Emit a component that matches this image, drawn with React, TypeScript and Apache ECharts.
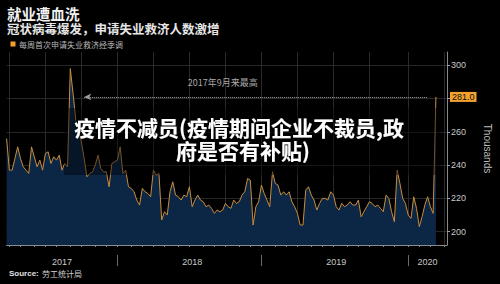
import React, { useEffect, useRef } from "react";
import * as echarts from "echarts";

// Weekly initial jobless claims (thousands, SA), week ending 2017-03-25 .. 2020-03-14
const weeklyClaims: number[] = [
  256, 237, 237, 244, 251, 244, 239, 237, 235, 251,
  245, 239, 243, 237, 247, 248, 241, 245, 243, 246,
  237, 241, 239, 298, 283, 267, 260, 254, 244, 233,
  235, 236, 240, 246, 238, 236, 236, 227, 241, 242,
  243, 251, 235, 237, 227, 226, 224, 219, 216, 226,
  224, 223, 221, 237, 234, 235, 207, 212, 210, 224,
  230, 222, 221, 219, 222, 221, 227, 215, 219, 222,
  219, 218, 215, 216, 214, 211, 213, 212, 213, 217,
  215, 214, 219, 217, 218, 222, 224, 232, 231, 204,
  215, 218, 228, 223, 219, 215, 236, 229, 228, 222,
  224, 222, 224, 218, 215, 211, 204, 204, 225, 227,
  222, 219, 213, 217, 220, 220, 219, 224, 222, 215,
  213, 217, 215, 216, 218, 216, 216, 219, 209, 212,
  215, 218, 217, 215, 216, 214, 212, 222, 220, 212,
  206, 237, 229, 220, 217, 210, 208, 221, 214, 203,
  209, 216, 221, 215, 211, 281,
];

const yTickValues = [200, 220, 240, 260, 280, 300];
const yLabelValues = [200, 220, 240, 260, 300];
const latestValue = 281.0;
const annotationText = "2017年9月来最高";
const titleMain = "就业遭血洗";
const titleSub = "冠状病毒爆发，申请失业救济人数激增";
const legendText = "每周首次申请失业救济经季调";
const overlayLine1 = "疫情不减员(疫情期间企业不裁员,政";
const overlayLine2 = "府是否有补贴)";

const DAY = 864e5;
const START = Date.UTC(2017, 2, 25);
const WEEKS = 160; // axis runs to 2020-04-11
const weekDates = Array.from({ length: WEEKS }, (_, i) => new Date(START + i * 7 * DAY));
const categories = weekDates.map((d) => d.toISOString().slice(0, 10));
const seriesData = categories.map((_, i) => (i < weeklyClaims.length ? weeklyClaims[i] : null));

function nearMonthStart(d: Date): Date | null {
  const y = d.getUTCFullYear();
  const m = d.getUTCMonth();
  const t = d.getTime();
  const a = Date.UTC(y, m, 1);
  const b = Date.UTC(y, m + 1, 1);
  if (t - a <= 3 * DAY) return new Date(a);
  if (b - t <= 3 * DAY) return new Date(b);
  return null;
}

const monthTick = weekDates.map((d) => nearMonthStart(d) !== null);
const quarterTick = weekDates.map((d) => {
  const m = nearMonthStart(d);
  return m !== null && m.getUTCMonth() % 3 === 0;
});
const yearTick = weekDates.map((d) => {
  const m = nearMonthStart(d);
  return m !== null && m.getUTCMonth() === 0;
});

// year label at centre of each year's visible span
const yearLabelIdx: Record<number, string> = {};
{
  const years = Array.from(new Set(weekDates.map((d) => d.getUTCFullYear())));
  years.forEach((y) => {
    const idx = weekDates.map((d, i) => (d.getUTCFullYear() === y ? i : -1)).filter((i) => i >= 0);
    const c = Math.round((idx[0] + idx[idx.length - 1]) / 2);
    yearLabelIdx[c] = String(y);
  });
}

export default function App() {
  const ref = useRef<HTMLDivElement>(null);

  useEffect(() => {
    if (!ref.current) return;
    const chart = echarts.init(ref.current, null, { renderer: "svg" });
    const axisFont = "'Liberation Sans', Arial, sans-serif";
    const cjkFont = "'Noto Sans CJK SC', sans-serif";

    chart.setOption({
      animation: false,
      backgroundColor: "#000000",
      grid: { left: 6.6, right: 50, top: 52, bottom: 39, containLabel: false },
      xAxis: [
        {
          type: "category",
          data: categories,
          boundaryGap: false,
          axisLine: { show: true, lineStyle: { color: "#8a8a8a", width: 1 } },
          axisTick: {
            show: true,
            length: 2,
            interval: (i: number) => monthTick[i],
            lineStyle: { color: "#8a8a8a" },
          },
          axisLabel: { show: false },
          splitLine: {
            show: true,
            interval: (i: number) => quarterTick[i],
            lineStyle: { color: "#2a2a2a", width: 1 },
          },
        },
        {
          type: "category",
          data: categories,
          boundaryGap: false,
          position: "bottom",
          offset: 10,
          axisLine: { show: false },
          axisTick: {
            show: true,
            length: 11,
            interval: (i: number) => yearTick[i],
            lineStyle: { color: "#6a6a6a" },
          },
          axisLabel: {
            show: true,
            interval: (i: number) => yearLabelIdx[i] !== undefined,
            formatter: (_v: string, i: number) => yearLabelIdx[i] ?? "",
            color: "#c8c8c8",
            fontSize: 9,
            fontFamily: axisFont,
            margin: 2,
          },
          splitLine: { show: false },
        },
      ],
      yAxis: {
        type: "value",
        position: "right",
        min: 192,
        max: 308,
        axisLine: { show: true, lineStyle: { color: "#8a8a8a" } },
        axisTick: {
          show: true,
          length: 3,
          customValues: yTickValues,
          lineStyle: { color: "#9a9a9a" },
        },
        axisLabel: {
          customValues: yLabelValues,
          color: "#c8c8c8",
          fontSize: 9,
          fontFamily: axisFont,
          margin: 4,
        },
        splitLine: { show: true, lineStyle: { color: "#262626", width: 1 } },
        name: "Thousands",
        nameLocation: "middle",
        nameGap: 35,
        nameRotate: -90,
        nameTextStyle: { color: "#bdbdbd", fontSize: 10, fontFamily: axisFont },
      },
      series: [
        {
          type: "line",
          data: seriesData,
          showSymbol: false,
          symbol: "none",
          connectNulls: false,
          lineStyle: { color: "#c98d3c", width: 1 },
          areaStyle: { color: "#0c2646", opacity: 1 },
          z: 2,
          markLine: {
            silent: true,
            symbol: ["none", "none"],
            animation: false,
            lineStyle: { color: "#a0a0a0", type: "dotted", width: 1 },
            data: [
              {
                yAxis: latestValue,
                lineStyle: { color: "rgba(0,0,0,0)", width: 0 },
                label: {
                  show: true,
                  position: "end",
                  distance: 3,
                  formatter: latestValue.toFixed(1),
                  backgroundColor: "#f3a22c",
                  color: "#111111",
                  padding: [1, 2, 0, 2],
                  fontSize: 9,
                  fontFamily: axisFont,
                },
              },
              [
                {
                  coord: [categories[28], latestValue],
                  symbol: "arrow",
                  symbolSize: [5, 7],
                  label: { show: false },
                },
                { coord: [categories[152], latestValue], symbol: "none" },
              ],
            ],
          },
          markPoint: {
            silent: true,
            animation: false,
            symbol: "circle",
            symbolSize: 1,
            itemStyle: { color: "rgba(0,0,0,0)" },
            data: [
              {
                coord: [categories[78], latestValue],
                label: {
                  show: true,
                  position: "top",
                  distance: 9,
                  formatter: annotationText,
                  color: "#a8a8a8",
                  fontSize: 9,
                  fontFamily: cjkFont,
                },
              },
            ],
          },
        },
      ],
      graphic: [
        {
          type: "text",
          left: 7,
          top: 6,
          z: 20,
          style: { text: titleMain, fill: "#f2f2f2", font: `bold 14.5px ${cjkFont}`, lineHeight: 15 },
        },
        {
          type: "text",
          left: 7,
          top: 22,
          z: 20,
          style: { text: titleSub, fill: "#e6e6e6", font: `bold 12.5px ${cjkFont}`, lineHeight: 13 },
        },
        {
          type: "rect",
          z: 20,
          shape: { x: 10.5, y: 41.5, width: 5, height: 5 },
          style: { fill: "#f0a030" },
        },
        {
          type: "text",
          left: 19,
          top: 40,
          z: 20,
          style: { text: legendText, fill: "#b8b8b8", font: `8px ${cjkFont}`, lineHeight: 9 },
        },
        {
          type: "rect",
          z: 10,
          shape: { x: 64, y: 108, width: 376, height: 67 },
          style: { fill: "rgba(0,0,0,0.42)" },
        },
        {
          type: "text",
          x: 239,
          y: 126.5,
          z: 30,
          style: {
            text: overlayLine1,
            fill: "#ffffff",
            font: `bold 21px ${cjkFont}`,
            lineHeight: 21,
            textAlign: "center",
            textVerticalAlign: "middle",
            textShadowColor: "rgba(0,0,0,0.9)",
            textShadowBlur: 4,
          },
        },
        {
          type: "text",
          x: 243,
          y: 149.5,
          z: 30,
          style: {
            text: overlayLine2,
            fill: "#ffffff",
            font: `bold 21px ${cjkFont}`,
            lineHeight: 21,
            textAlign: "center",
            textVerticalAlign: "middle",
            textShadowColor: "rgba(0,0,0,0.9)",
            textShadowBlur: 4,
          },
        },
        {
          type: "text",
          left: 9,
          top: 267,
          z: 20,
          style: {
            text: "{b|Source:} {n|劳工统计局}",
            rich: {
              b: { fill: "#e0e0e0", font: `bold 8px ${axisFont}` },
              n: { fill: "#d0d0d0", font: `8px ${cjkFont}` },
            },
          },
        },
      ],
    });

    return () => chart.dispose();
  }, []);

  return (
    <div
      ref={ref}
      style={{ position: "absolute", left: 0, top: 0, width: 500, height: 284 }}
    />
  );
}
